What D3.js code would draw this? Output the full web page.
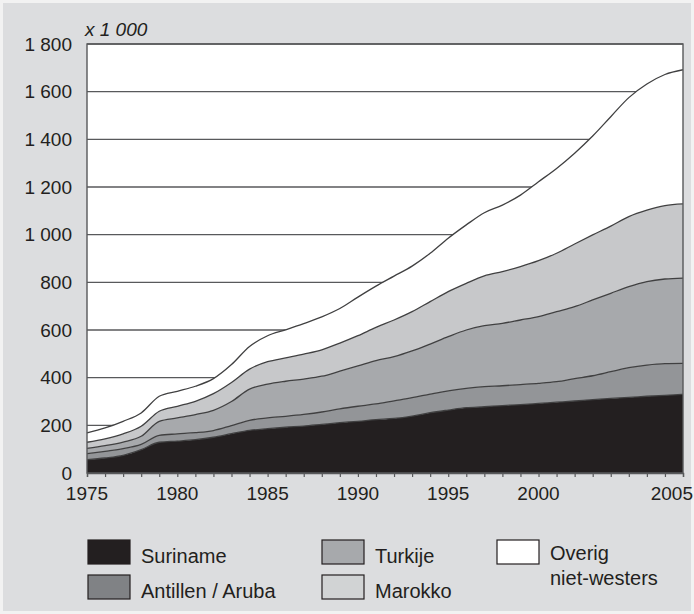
<!DOCTYPE html>
<html>
<head>
<meta charset="utf-8">
<script src="https://cdn.jsdelivr.net/npm/d3@7"></script>
<style>
  html, body { margin: 0; padding: 0; background: #ffffff; }
  svg { display: block; }
  text { font-family: "Liberation Sans", Arial, Helvetica, sans-serif; fill: #231f20; }
</style>
</head>
<body>
<svg id="chart" width="694" height="614"></svg>
<script>
// ---- data (x 1 000 persons) ----
const years = [1975,1976,1977,1978,1979,1980,1981,1982,1983,1984,1985,1986,1987,1988,1989,1990,1991,
               1992,1993,1994,1995,1996,1997,1998,1999,2000,2001,2002,2003,2004,2005,2006,2007,2008];
const suriname = [56,63,74,98,129,134,140,150,165,179,186,192,197,204,211,217,224,229,239,253,264,274,278,283,287,292,297,302,308,313,317,322,326,330];
const antillen = [25,28,28,22,29,30,29,28,34,42,45,46,49,52,58,63,66,74,77,78,81,81,84,83,84,84,86,94,100,112,125,131,133,130];
const turkije  = [22,24,28,34,59,67,76,85,101,131,142,147,148,150,158,169,182,185,196,210,227,245,256,262,271,280,294,302,318,329,340,350,355,358];
const marokko  = [26,28,34,42,42,49,56,70,80,84,94,98,105,111,118,127,139,154,165,178,189,196,209,217,224,235,245,263,273,282,294,300,308,311];
const overig   = [39,46,53,56,63,63,63,63,75,95,109,118,128,138,145,162,173,184,191,203,224,245,265,279,300,331,356,381,415,459,499,529,550,563];

const seriesKeys   = ["suriname","antillen","turkije","marokko","overig"];
const seriesLabels = ["Suriname","Antillen / Aruba","Turkije","Marokko","Overig\nniet-westers"];
const yTicks = [0,200,400,600,800,1000,1200,1400,1600,1800];
const xLabelYears = [1975,1980,1985,1990,1995,2000,2008];
const xLabelTexts = ["1975","1980","1985","1990","1995","2000","2005"];
const unitLabel = "x 1 000";

// ---- styles ----
const colors = { suriname:"#231f20", antillen:"#939598", turkije:"#a7a9ac", marokko:"#c7c8ca", overig:"#ffffff" };
const legendColors = { suriname:"#231f20", antillen:"#808285", turkije:"#a7a9ac", marokko:"#d1d3d4", overig:"#ffffff" };
const pageBg = "#dcdddf";
const lineColor = "#404041";

const table = years.map((yr, i) => ({
  year: yr, suriname: suriname[i], antillen: antillen[i], turkije: turkije[i], marokko: marokko[i], overig: overig[i]
}));

const svg = d3.select("#chart");
const W = 694, H = 614;
svg.append("rect").attr("x", 1.5).attr("y", 1.5).attr("width", W - 3).attr("height", H - 3)
   .attr("fill", pageBg).attr("stroke", "#f2f2f2").attr("stroke-width", 3);

const plot = { left: 87, right: 683, top: 44, bottom: 473 };
const x = d3.scaleLinear().domain([years[0], years[years.length - 1]]).range([plot.left, plot.right]);
const y = d3.scaleLinear().domain([0, 1800]).range([plot.bottom, plot.top]);

// plot background
svg.append("rect").attr("x", plot.left).attr("y", plot.top)
   .attr("width", plot.right - plot.left).attr("height", plot.bottom - plot.top).attr("fill", "#ffffff");

// gridlines (under the areas)
svg.append("g").selectAll("line").data(yTicks.filter(d => d > 0)).join("line")
   .attr("x1", plot.left).attr("x2", plot.right)
   .attr("y1", d => y(d)).attr("y2", d => y(d))
   .attr("stroke", "#58595b").attr("stroke-width", 1.3);

// stacked areas
const stack = d3.stack().keys(seriesKeys);
const layers = stack(table);
const curve = d3.curveMonotoneX;
const area = d3.area().curve(curve)
  .x(d => x(d.data.year)).y0(d => y(d[0])).y1(d => y(d[1]));
const topLine = d3.line().curve(curve)
  .x(d => x(d.data.year)).y(d => y(d[1]));

svg.append("g").selectAll("path").data(layers).join("path")
   .attr("d", area).attr("fill", d => colors[d.key]);
svg.append("g").selectAll("path").data(layers).join("path")
   .attr("d", topLine).attr("fill", "none")
   .attr("stroke", lineColor).attr("stroke-width", 1.3);

// frame
svg.append("rect").attr("x", plot.left).attr("y", plot.top)
   .attr("width", plot.right - plot.left).attr("height", plot.bottom - plot.top)
   .attr("fill", "none").attr("stroke", "#58595b").attr("stroke-width", 1.4);

// y axis labels
const fmt = d3.formatLocale({ decimal: ",", thousands: " ", grouping: [3], currency: ["", ""] }).format(",");
const yAxis = d3.axisLeft(y).tickValues(yTicks).tickSize(0).tickPadding(15).tickFormat(fmt);
const gy = svg.append("g").attr("transform", `translate(${plot.left},0)`).call(yAxis);
gy.select(".domain").remove();
gy.selectAll("text").attr("font-size", 19).attr("font-family", null).attr("fill", "#231f20");

// x axis ticks
const xAxis = d3.axisBottom(x).tickValues(years).tickSize(4).tickFormat("");
const gx = svg.append("g").attr("transform", `translate(0,${plot.bottom})`).call(xAxis);
gx.select(".domain").attr("stroke", "#58595b").attr("stroke-width", 1.4);
gx.selectAll(".tick line").attr("stroke", "#58595b").attr("stroke-width", 1.2);

// x labels
svg.append("g").selectAll("text").data(xLabelYears).join("text")
   .attr("x", (d, i) => i === xLabelYears.length - 1 ? x(d) + 10 : x(d))
   .attr("y", 500)
   .attr("text-anchor", (d, i) => i === xLabelYears.length - 1 ? "end" : "middle")
   .attr("font-size", 19)
   .text((d, i) => xLabelTexts[i]);

// unit label
svg.append("text").attr("x", 85).attr("y", 36).attr("font-size", 19).attr("font-style", "italic")
   .text(unitLabel);

// legend
const legendPos = [
  { key: "suriname", x: 88,  y: 540 },
  { key: "antillen", x: 88,  y: 575 },
  { key: "turkije",  x: 322, y: 540 },
  { key: "marokko",  x: 322, y: 575 },
  { key: "overig",   x: 497, y: 540 }
];
const lg = svg.append("g");
legendPos.forEach(p => {
  const idx = seriesKeys.indexOf(p.key);
  lg.append("rect").attr("x", p.x).attr("y", p.y).attr("width", 42).attr("height", 24)
    .attr("fill", legendColors[p.key]).attr("stroke", "#231f20").attr("stroke-width", 1.2);
  const lines = seriesLabels[idx].split("\n");
  const t = lg.append("text").attr("x", p.x + 53).attr("y", lines.length > 1 ? p.y + 20 : p.y + 23)
    .attr("font-size", 20);
  lines.forEach((ln, k) => {
    t.append("tspan").attr("x", p.x + 53).attr("dy", k === 0 ? 0 : 25).text(ln);
  });
});
</script>
</body>
</html>
